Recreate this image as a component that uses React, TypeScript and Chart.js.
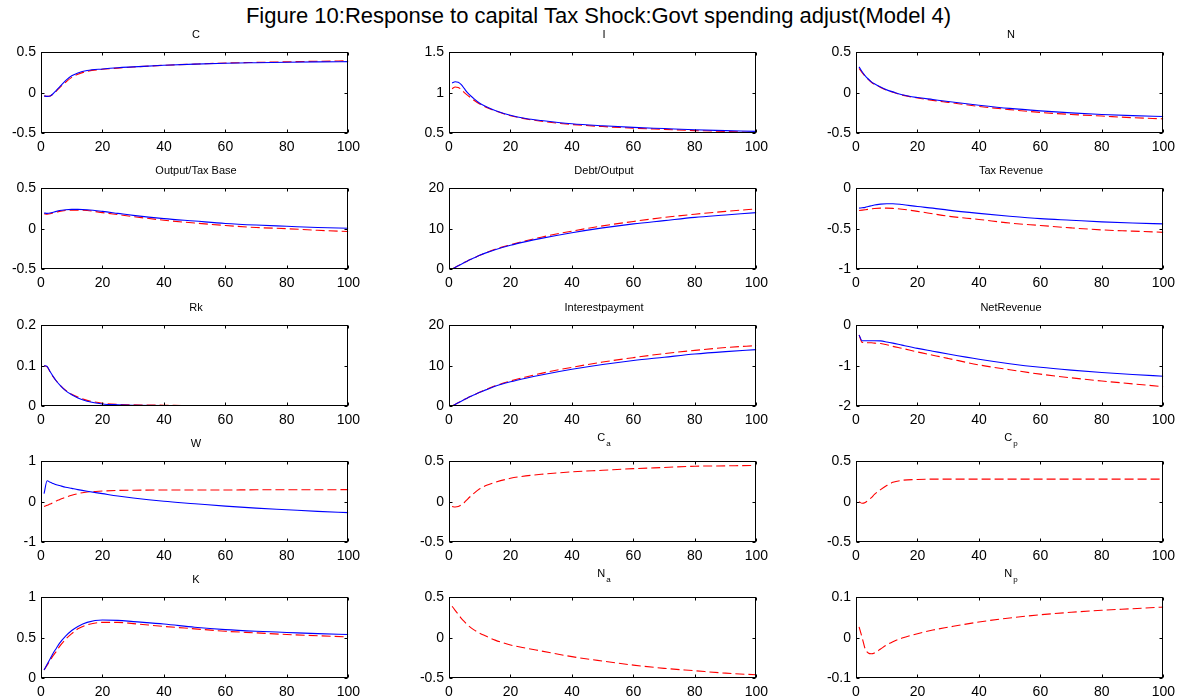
import React, { useEffect, useRef } from "react";
import { Chart, registerables } from "chart.js";
Chart.register(...registerables);

// ---------- data ----------
const STEPS = [1, 2, 3, 4, 5, 6, 8, 10, 12, 15, 20, 25, 30, 40, 50, 60, 70, 80, 90, 100];
const X_TICKS = [0, 20, 40, 60, 80, 100];

const MAIN_TITLE = "Figure 10:Response to capital Tax Shock:Govt spending adjust(Model 4)";
const TITLES = ["C", "I", "N", "Output/Tax Base", "Debt/Output", "Tax Revenue", "Rk", "Interestpayment", "NetRevenue", "W", "C", "C", "K", "N", "N"];
const SUBSCRIPTS = ["", "", "", "", "", "", "", "", "", "", "a", "p", "", "a", "p"];
const Y_TICKS = [
  [-0.5, 0, 0.5], [0.5, 1, 1.5], [-0.5, 0, 0.5],
  [-0.5, 0, 0.5], [0, 10, 20], [-1, -0.5, 0],
  [0, 0.1, 0.2], [0, 10, 20], [-2, -1, 0],
  [-1, 0, 1], [-0.5, 0, 0.5], [-0.5, 0, 0.5],
  [0, 0.5, 1], [-0.5, 0, 0.5], [-0.1, 0, 0.1],
];

const C_BLUE = [-0.04, -0.045, -0.04, -0.01, 0.03, 0.07, 0.15, 0.21, 0.245, 0.275, 0.295, 0.31, 0.32, 0.34, 0.355, 0.365, 0.372, 0.378, 0.382, 0.385];
const C_RED = [-0.04, -0.045, -0.04, -0.015, 0.02, 0.06, 0.13, 0.19, 0.23, 0.265, 0.29, 0.305, 0.318, 0.34, 0.355, 0.368, 0.376, 0.383, 0.39, 0.395];
const I_BLUE = [1.12, 1.135, 1.13, 1.1, 1.05, 1.0, 0.93, 0.87, 0.83, 0.78, 0.72, 0.68, 0.655, 0.615, 0.59, 0.57, 0.555, 0.54, 0.53, 0.52];
const I_RED = [1.05, 1.07, 1.065, 1.04, 1.0, 0.97, 0.91, 0.86, 0.82, 0.775, 0.715, 0.675, 0.645, 0.605, 0.58, 0.56, 0.545, 0.53, 0.52, 0.505];
const N_BLUE = [0.32, 0.26, 0.21, 0.17, 0.135, 0.11, 0.07, 0.035, 0.01, -0.025, -0.06, -0.085, -0.11, -0.155, -0.195, -0.225, -0.25, -0.27, -0.285, -0.295];
const N_RED = [0.3, 0.25, 0.2, 0.165, 0.13, 0.105, 0.065, 0.03, 0.005, -0.03, -0.065, -0.095, -0.12, -0.17, -0.21, -0.245, -0.27, -0.29, -0.31, -0.325];
const OUT_BLUE = [0.195, 0.19, 0.195, 0.205, 0.215, 0.225, 0.235, 0.24, 0.24, 0.235, 0.215, 0.19, 0.165, 0.125, 0.095, 0.065, 0.045, 0.03, 0.015, 0.005];
const OUT_RED = [0.185, 0.18, 0.185, 0.195, 0.205, 0.215, 0.225, 0.23, 0.23, 0.225, 0.2, 0.175, 0.15, 0.105, 0.07, 0.04, 0.015, 0.0, -0.02, -0.035];
const DEBT_BLUE = [0, 0.4, 0.8, 1.2, 1.6, 2.0, 2.7, 3.4, 4.0, 4.8, 5.9, 6.8, 7.6, 9.0, 10.2, 11.2, 12.0, 12.8, 13.4, 14.0];
const DEBT_RED = [0, 0.4, 0.8, 1.2, 1.6, 2.0, 2.7, 3.4, 4.05, 4.9, 6.0, 7.0, 7.9, 9.4, 10.7, 11.8, 12.8, 13.6, 14.3, 14.9];
const TAX_BLUE = [-0.245, -0.24, -0.235, -0.225, -0.215, -0.205, -0.195, -0.19, -0.19, -0.2, -0.225, -0.245, -0.27, -0.31, -0.345, -0.375, -0.395, -0.415, -0.43, -0.44];
const TAX_RED = [-0.275, -0.27, -0.265, -0.26, -0.255, -0.25, -0.245, -0.245, -0.248, -0.258, -0.285, -0.315, -0.345, -0.385, -0.43, -0.46, -0.49, -0.515, -0.53, -0.545];
const RK_BLUE = [0.1, 0.098, 0.085, 0.073, 0.062, 0.053, 0.038, 0.028, 0.02, 0.012, 0.005, 0.003, 0.002, 0.001, 0.0005, 0.0003, 0.0002, 0.0001, 0.0001, 0];
const RK_RED = [0.1, 0.097, 0.084, 0.072, 0.062, 0.053, 0.039, 0.029, 0.022, 0.014, 0.007, 0.004, 0.003, 0.002, 0.001, 0.0007, 0.0004, 0.0003, 0.0002, 0.0001];
const INT_BLUE = [0, 0.4, 0.8, 1.2, 1.6, 2.0, 2.7, 3.4, 4.0, 4.9, 6.0, 6.9, 7.7, 9.1, 10.3, 11.3, 12.1, 12.9, 13.5, 14.0];
const INT_RED = [0, 0.4, 0.8, 1.2, 1.6, 2.0, 2.7, 3.4, 4.1, 5.0, 6.2, 7.2, 8.1, 9.6, 10.9, 12.0, 13.0, 13.8, 14.5, 15.0];
const NET_BLUE = [-0.24, -0.38, -0.38, -0.38, -0.38, -0.38, -0.385, -0.41, -0.44, -0.49, -0.57, -0.64, -0.71, -0.84, -0.95, -1.04, -1.11, -1.17, -1.22, -1.26];
const NET_RED = [-0.24, -0.42, -0.42, -0.43, -0.43, -0.44, -0.45, -0.48, -0.52, -0.57, -0.66, -0.74, -0.82, -0.98, -1.1, -1.21, -1.3, -1.38, -1.45, -1.52];
const W_BLUE = [0.2, 0.52, 0.48, 0.45, 0.42, 0.4, 0.36, 0.33, 0.3, 0.26, 0.2, 0.14, 0.09, 0.01, -0.05, -0.11, -0.16, -0.2, -0.24, -0.27];
const W_RED = [-0.12, -0.09, -0.06, -0.02, 0.02, 0.05, 0.11, 0.16, 0.2, 0.24, 0.265, 0.28, 0.285, 0.29, 0.29, 0.29, 0.295, 0.295, 0.295, 0.3];
const CA_RED = [-0.06, -0.065, -0.06, -0.04, -0.01, 0.03, 0.1, 0.16, 0.2, 0.24, 0.29, 0.32, 0.34, 0.37, 0.39, 0.41, 0.425, 0.44, 0.445, 0.45];
const CP_RED = [0.0, -0.02, -0.01, 0.02, 0.05, 0.09, 0.15, 0.2, 0.24, 0.265, 0.275, 0.28, 0.28, 0.28, 0.28, 0.28, 0.28, 0.28, 0.28, 0.28];
const K_BLUE = [0.1, 0.17, 0.24, 0.31, 0.37, 0.43, 0.52, 0.59, 0.64, 0.69, 0.72, 0.715, 0.7, 0.67, 0.63, 0.6, 0.58, 0.565, 0.55, 0.54];
const K_RED = [0.1, 0.16, 0.22, 0.28, 0.33, 0.39, 0.48, 0.55, 0.61, 0.66, 0.69, 0.69, 0.675, 0.64, 0.61, 0.58, 0.56, 0.54, 0.525, 0.51];
const NA_RED = [0.39, 0.34, 0.29, 0.24, 0.2, 0.16, 0.1, 0.055, 0.02, -0.03, -0.09, -0.13, -0.165, -0.235, -0.29, -0.34, -0.38, -0.41, -0.44, -0.46];
const NP_RED = [0.027, 0.0, -0.028, -0.038, -0.04, -0.038, -0.028, -0.018, -0.01, -0.001, 0.01, 0.019, 0.026, 0.039, 0.049, 0.057, 0.063, 0.068, 0.072, 0.076];

const BLUE_SERIES = [C_BLUE, I_BLUE, N_BLUE, OUT_BLUE, DEBT_BLUE, TAX_BLUE, RK_BLUE, INT_BLUE, NET_BLUE, W_BLUE, null, null, K_BLUE, null, null];
const RED_SERIES = [C_RED, I_RED, N_RED, OUT_RED, DEBT_RED, TAX_RED, RK_RED, INT_RED, NET_RED, W_RED, CA_RED, CP_RED, K_RED, NA_RED, NP_RED];

// ---------- layout ----------
const PLOT_LEFT = [41, 449, 856];
const PLOT_TOP = [49, 185, 322, 458, 594];
const PLOT_W = 310;
const PLOT_H = 84;
const Y_AXIS_W = 40;
const X_AXIS_H = 22;
const PAD_TOP = 10;
const PAD_RIGHT = 15;
const FONT = '"Liberation Sans", Arial, Helvetica, sans-serif';

const fmt = (v: any) => String(+Number(v).toFixed(6));

const boxPlugin = {
  id: "matlabBox",
  afterDatasetsDraw(chart: any) {
    const { ctx, chartArea: a, scales } = chart;
    ctx.save();
    ctx.strokeStyle = "#000";
    ctx.lineWidth = 1;
    const L = Math.round(a.left) + 0.5;
    const R = Math.round(a.right) - 0.5;
    const T = Math.round(a.top) + 0.5;
    const B = Math.round(a.bottom) - 0.5;
    ctx.strokeRect(L, T, R - L, B - T);
    const tl = 3;
    ctx.beginPath();
    scales.x.ticks.forEach((t: any) => {
      const px = Math.round(scales.x.getPixelForValue(t.value)) + 0.5;
      ctx.moveTo(px, B);
      ctx.lineTo(px, B - tl);
      ctx.moveTo(px, T);
      ctx.lineTo(px, T + tl);
    });
    scales.y.ticks.forEach((t: any) => {
      const py = Math.round(scales.y.getPixelForValue(t.value)) + 0.5;
      ctx.moveTo(L, py);
      ctx.lineTo(L + tl, py);
      ctx.moveTo(R, py);
      ctx.lineTo(R - tl, py);
    });
    ctx.stroke();
    ctx.restore();
  },
};

function Panel({ idx }: { idx: number }) {
  const ref = useRef<HTMLCanvasElement>(null);
  const col = idx % 3;
  const row = Math.floor(idx / 3);
  const cw = Y_AXIS_W + PLOT_W + PAD_RIGHT;
  const ch = PAD_TOP + PLOT_H + X_AXIS_H;

  useEffect(() => {
    const yTicks = Y_TICKS[idx];
    const datasets: any[] = [];
    const blue = BLUE_SERIES[idx];
    const red = RED_SERIES[idx];
    if (blue) {
      datasets.push({
        data: STEPS.map((x, i) => ({ x, y: blue[i] })),
        borderColor: "#0000ff",
        borderWidth: 1.1,
        pointRadius: 0,
        cubicInterpolationMode: "monotone",
        fill: false,
      });
    }
    if (red) {
      datasets.push({
        data: STEPS.map((x, i) => ({ x, y: red[i] })),
        borderColor: "#ff0000",
        borderWidth: 1.1,
        borderDash: [9, 4],
        pointRadius: 0,
        cubicInterpolationMode: "monotone",
        fill: false,
      });
    }
    const tickFont = { family: FONT, size: 14 };
    const chart = new Chart(ref.current as HTMLCanvasElement, {
      type: "line",
      data: { datasets },
      plugins: [boxPlugin],
      options: {
        animation: false,
        responsive: false,
        maintainAspectRatio: false,
        events: [],
        layout: { padding: { left: 0, right: PAD_RIGHT, top: PAD_TOP, bottom: 0 } },
        plugins: { legend: { display: false }, tooltip: { enabled: false }, title: { display: false } },
        scales: {
          x: {
            type: "linear",
            min: X_TICKS[0],
            max: X_TICKS[X_TICKS.length - 1],
            afterBuildTicks: (s: any) => {
              s.ticks = X_TICKS.map((v) => ({ value: v }));
            },
            afterFit: (s: any) => {
              s.height = X_AXIS_H;
            },
            grid: { display: false, drawTicks: false },
            border: { display: false },
            ticks: { font: tickFont, color: "#000", padding: 6, maxRotation: 0, autoSkip: false, callback: (v: any) => fmt(v) },
          },
          y: {
            type: "linear",
            min: yTicks[0],
            max: yTicks[yTicks.length - 1],
            afterBuildTicks: (s: any) => {
              s.ticks = yTicks.map((v) => ({ value: v }));
            },
            afterFit: (s: any) => {
              s.width = Y_AXIS_W;
            },
            grid: { display: false, drawTicks: false },
            border: { display: false },
            ticks: { font: tickFont, color: "#000", padding: 5, autoSkip: false, callback: (v: any) => fmt(v) },
          },
        },
      } as any,
    });
    return () => chart.destroy();
  }, [idx]);

  const hasSub = SUBSCRIPTS[idx] !== "";
  const titleSize = 11;
  const titleTop = PLOT_TOP[row] - 14.5 - 0.488 * titleSize - (hasSub ? 6 : 0);

  return (
    <>
      <canvas
        ref={ref}
        width={cw}
        height={ch}
        style={{
          position: "absolute",
          left: PLOT_LEFT[col] - Y_AXIS_W,
          top: PLOT_TOP[row] - PAD_TOP,
          width: cw,
          height: ch,
        }}
      />
      <div
        style={{
          position: "absolute",
          left: PLOT_LEFT[col],
          width: PLOT_W,
          top: titleTop,
          textAlign: "center",
          fontFamily: FONT,
          fontSize: titleSize,
          lineHeight: `${titleSize}px`,
          color: "#000",
          whiteSpace: "nowrap",
        }}
      >
        {TITLES[idx]}
        {hasSub ? (
          <span style={{ fontSize: 8, position: "relative", top: 5, marginLeft: 1 }}>{SUBSCRIPTS[idx]}</span>
        ) : null}
      </div>
    </>
  );
}

export default function App() {
  return (
    <div
      style={{
        position: "absolute",
        left: 0,
        top: 0,
        width: 1197,
        height: 700,
        overflow: "hidden",
        background: "#fff",
      }}
    >
      <div
        style={{
          position: "absolute",
          left: 0,
          top: 5,
          width: 1197,
          textAlign: "center",
          fontFamily: FONT,
          fontSize: 22,
          lineHeight: "22px",
          color: "#000",
          whiteSpace: "nowrap",
        }}
      >
        {MAIN_TITLE}
      </div>
      {TITLES.map((_, i) => (
        <Panel key={i} idx={i} />
      ))}
    </div>
  );
}
